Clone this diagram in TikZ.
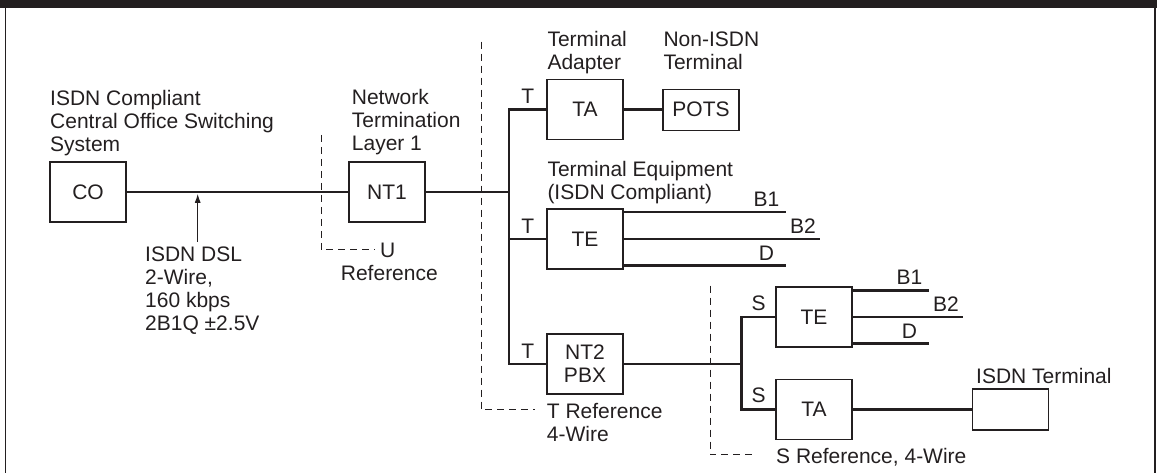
\documentclass[tikz,border=0pt]{standalone}
\usepackage{fontspec}
\setmainfont{Liberation Sans}
\usetikzlibrary{arrows.meta, calc}
\definecolor{ink}{HTML}{231F20}
\newcommand{\lbl}{\fontsize{21}{23}\selectfont}

\tikzset{
  unit/.style={draw=ink, line width=1.1pt, fill=white, minimum width=76pt,
    minimum height=60pt, inner sep=0pt, align=center, text=ink, font=\lbl},
  slim/.style={unit, minimum height=41pt},
  wire/.style={draw=ink, line width=2.7pt},
  refline/.style={draw=ink, line width=1pt, dash pattern=on 7pt off 5pt},
  caption/.style={anchor=base west, align=left, inner sep=0pt, text=ink, font=\lbl},
  tag/.style={anchor=base, inner sep=0pt, text=ink, font=\lbl},
}

\begin{document}
\begin{tikzpicture}[x=1pt, y=-1pt, >={Latex[length=9pt, width=6pt]}]
\useasboundingbox (0,0) rectangle (1157,473);

% Frame
\fill[ink] (0,0) rectangle (1157,8);
\draw[ink, line width=1.7pt] (5.5,8) -- (5.5,473);
\draw[ink, line width=1.7pt] (1155,8) -- (1155,473);

% Boxes
\node[unit] (co)  at (88,192)  {CO};
\node[unit] (nt1) at (387,192) {NT1};
\node[unit] (ta1) at (585,109.3) {TA};
\node[slim] (pots) at (701,109.7) {POTS};
\node[unit] (te1) at (585,239) {TE};
\node[unit] (nt2) at (585,364) {NT2\\PBX};
\node[unit] (te2) at (814,317) {TE};
\node[unit] (ta2) at (814,409.5) {TA};
\node[slim] (isdnterm) at (1010.3,409.5) {};

% Captions (placed at the baseline of their last line)
\node[caption] (cocap) at (50,151.7)
  {ISDN Compliant\\Central Office Switching\\System};
\node[caption] (nt1cap) at (351.7,150.7) {Network\\Termination\\Layer 1};
\node[caption] (ta1cap) at (547.3,69.3) {Terminal\\Adapter};
\node[caption] (potscap) at (663.3,69.3) {Non-ISDN\\Terminal};
\node[caption] (te1cap) at (547.3,200) {Terminal Equipment\\(ISDN Compliant)};
\node[caption] (dslcap) at (145,330.7)
  {ISDN DSL\\2-Wire,\\160 kbps\\2B1Q ±2.5V};
\node[caption] (termcap) at (976,383) {ISDN Terminal};

% Bus lines
\coordinate (bus) at (509,364);
\coordinate (sbus) at (741.7,364);
\draw[wire] (co) -- (nt1);
\draw[wire] (nt1) -- (nt1 -| bus);
\draw[wire] (ta1.west) -- (ta1.west -| bus) -- (bus) -- (nt2.west);
\draw[wire] (te1.west) -- (te1.west -| bus);
\draw[wire] (ta1) -- (pots);
\draw[wire] (nt2) -- (sbus);
\draw[wire] (te2.west) -- (te2.west -| sbus) -- (ta2.west -| sbus) -- (ta2.west);
\draw[wire] (ta2) -- (isdnterm);

% T and S tags
\foreach \n in {ta1,te1,nt2} {
  \node[tag] at ($(\n.west -| bus)!0.5!(\n.west)+(0,-5.5)$) {T};
}
\foreach \n in {te2,ta2} {
  \node[tag] at ($(\n.west -| sbus)!0.5!(\n.west)+(0,-7)$) {S};
}

% B and D channels
\foreach \te/\shortlen/\widelen in {te1/162/196, te2/76/110} {
  \coordinate (\te-b1) at ($(\te.north east)+(\shortlen,3.7)$);
  \coordinate (\te-b2) at ($(\te.east)+(\widelen,0)$);
  \coordinate (\te-d)  at ($(\te.south east)+(\shortlen,-4)$);
  \draw[wire] (\te.east |- \te-b1) -- (\te-b1);
  \draw[wire] (\te.east) -- (\te-b2);
  \draw[wire] (\te.east |- \te-d) -- (\te-d);
  \node[tag] at ($(\te-b1)+(-19,-5.5)$) {B1};
  \node[tag] at ($(\te-b2)+(-16.5,-5.5)$) {B2};
  \node[tag] at ($(\te-d)+(-19,-5.5)$) {D};
}

% DSL arrow
\coordinate (dsltail) at (197.7,241.7);
\coordinate (dslhead) at (197.7,193.8);
\draw[ink, line width=1pt, ->] (dsltail) -- (dslhead);

% Reference points
\draw[refline] (321,135) -- (321,250) -- (375,250) coordinate (uref);
\node[anchor=west, inner sep=0pt, text=ink, font=\lbl] (ucap) at ($(uref)+(5,0)$) {U};
\node[caption] (urefcap) at (340.7,280.7) {Reference};

\draw[refline] (481,41.7) -- (481,409.7) -- (535,409.7);
\node[caption] (trefcap) at (546.7,441.3) {T Reference\\4-Wire};

\draw[refline] (710,285.7) -- (710,454.7) -- (751.7,454.7);
\node[caption] (srefcap) at (776,463) {S Reference, 4-Wire};

\end{tikzpicture}
\end{document}
